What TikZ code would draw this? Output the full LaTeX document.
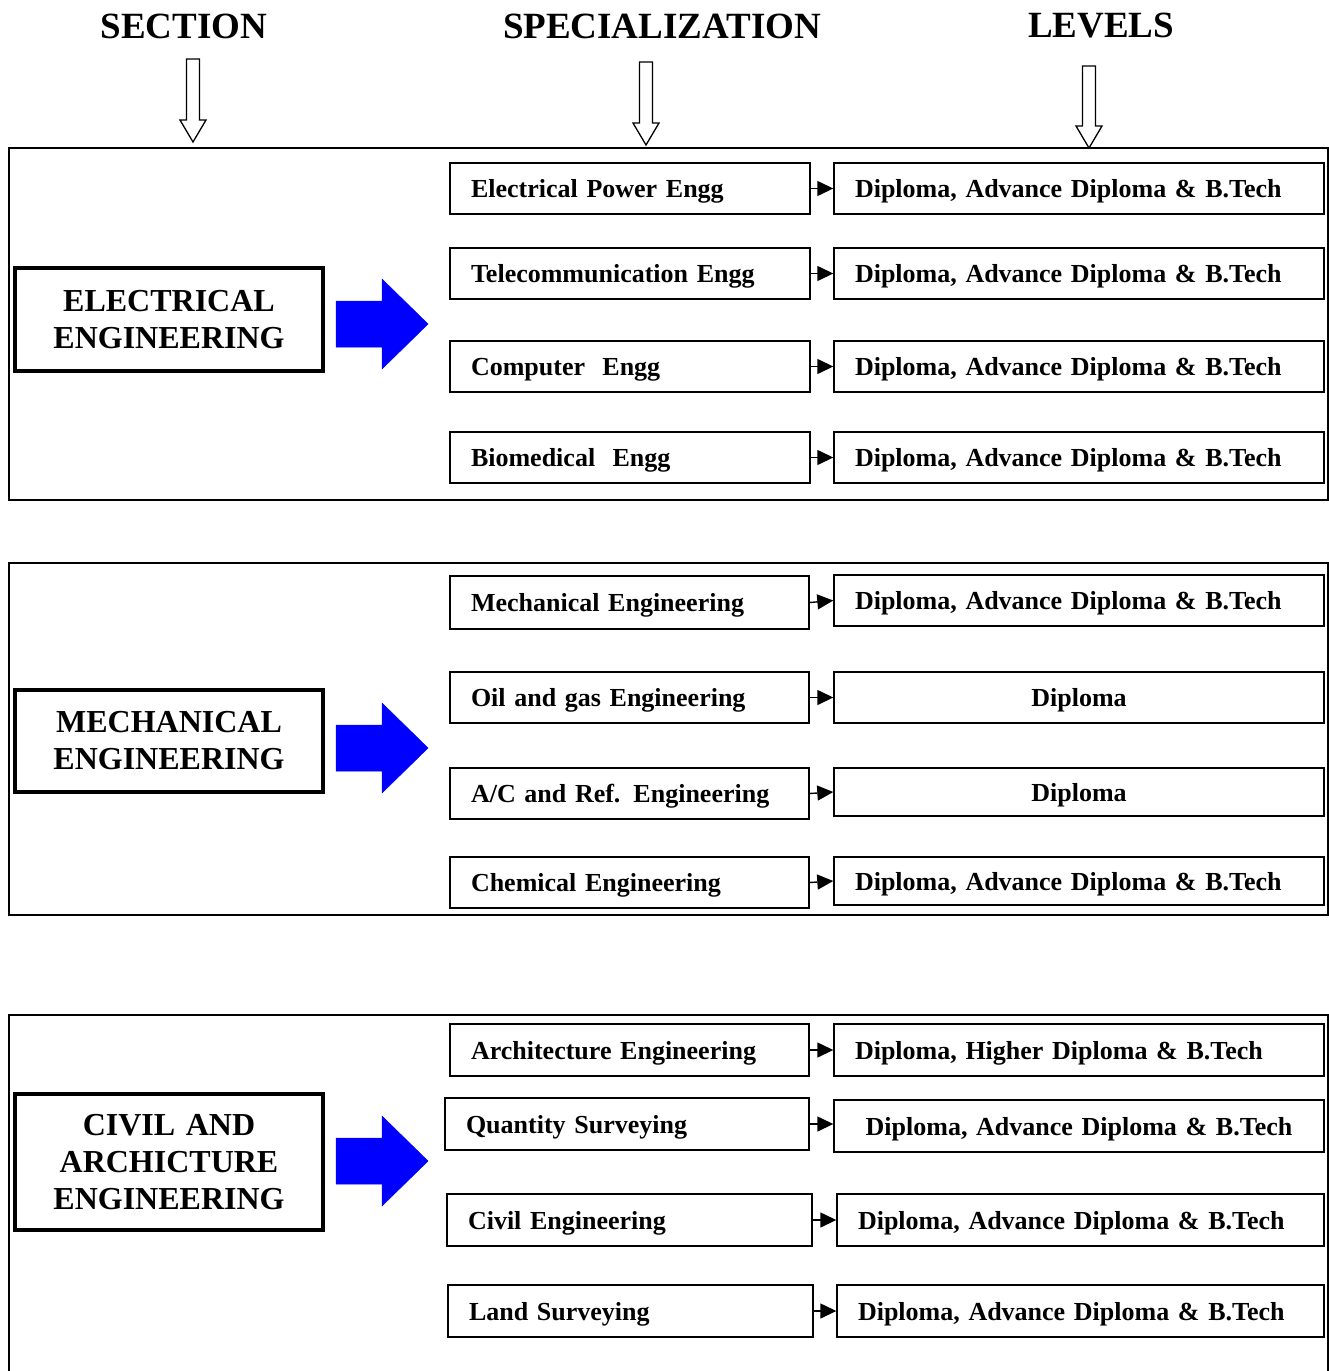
\documentclass[tikz,border=0pt]{standalone}
\usepackage{fontspec}
\setmainfont{Liberation Serif}
\usetikzlibrary{arrows.meta}
\tikzset{
  box/.style={draw, line width=1.4pt, inner xsep=21pt, inner ysep=2pt, align=left,
    text depth=0pt, font=\bfseries\fontsize{26}{30}\selectfont},
  ctr/.style={align=center},
  secbox/.style={draw, line width=3.2pt, inner xsep=21pt, inner ysep=2pt, align=center,
    text depth=, font=\bfseries\fontsize{32}{37}\selectfont},
  hdr/.style={font=\bfseries\fontsize{37}{40}\selectfont, inner sep=0pt},
  outer/.style={draw, line width=1.4pt},
  hollow/.style={draw, line width=1.3pt, fill=white},
  bluearrow/.style={fill=blue, draw=blue, line width=0.5pt},
  link/.style={line width=1.4pt, -{Triangle[length=16pt,width=15pt]}},
}
\newcommand\bx[7][]{%
  \pgfmathsetmacro\bw{#5-#3}\pgfmathsetmacro\bh{#6-#4}\pgfmathsetmacro\tw{#5-#3-42}%
  \node[box, minimum width=\bw pt, minimum height=\bh pt, text width=\tw pt, #1] (#2)
    at ({(#3+#5)/2},{(#4+#6)/2}) {#7};}
\newcommand\hol[3]{% x, top, tip
  \path[hollow] (#1-6.5,#2) -- (#1+6.5,#2) -- (#1+6.5,#3-22) -- (#1+13,#3-22) -- (#1,#3)
    -- (#1-13,#3-22) -- (#1-6.5,#3-22) -- cycle;}
\newcommand\blu[1]{% center y
  \path[bluearrow] (336,#1-23) -- (382,#1-23) -- (382,#1-45) -- (428,#1) -- (382,#1+45)
    -- (382,#1+23) -- (336,#1+23) -- cycle;}
\begin{document}
\begin{tikzpicture}[x=1pt,y=-1pt]
\useasboundingbox (0,0) rectangle (1329,1371);
% headers
\node[hdr] (h1) at (184,26) {SECTION};
\node[hdr] (h2) at (662,26) {SPECIALIZATION};
\node[hdr] (h3) at (1101,26) {LEVELS};
\hol{193}{59}{142}
\hol{646}{62}{145}
\hol{1089}{66}{148}
% outer boxes
\draw[outer] (9,148) rectangle (1328,500);
\draw[outer] (9,563) rectangle (1328,915);
\draw[outer] (9,1371) -- (9,1015) -- (1328,1015) -- (1328,1371);
% section boxes
\bx[secbox]{e}{15}{268}{323}{371}{ELECTRICAL\\ENGINEERING}
\bx[secbox]{m}{15}{690}{323}{792}{MECHANICAL\\ENGINEERING}
\bx[secbox]{c}{15}{1094}{323}{1230}{CIVIL AND\\ARCHICTURE\\ENGINEERING}
\blu{324}
\blu{748}
\blu{1161}
% section 1
\bx{s1}{450}{163}{810}{214}{Electrical Power Engg}
\bx{l1}{834}{163}{1324}{214}{Diploma, Advance Diploma \& B.Tech}
\bx{s2}{450}{248}{810}{299}{Telecommunication Engg}
\bx{l2}{834}{248}{1324}{299}{Diploma, Advance Diploma \& B.Tech}
\bx{s3}{450}{341}{810}{392}{Computer\ \ Engg}
\bx{l3}{834}{341}{1324}{392}{Diploma, Advance Diploma \& B.Tech}
\bx{s4}{450}{432}{810}{483}{Biomedical\ \ Engg}
\bx{l4}{834}{432}{1324}{483}{Diploma, Advance Diploma \& B.Tech}
% section 2
\bx{s5}{450}{576}{809}{629}{Mechanical Engineering}
\bx{l5}{834}{575}{1324}{626}{Diploma, Advance Diploma \& B.Tech}
\bx{s6}{450}{672}{809}{723}{Oil and gas Engineering}
\bx[ctr]{l6}{834}{672}{1324}{723}{Diploma}
\bx{s7}{450}{768}{809}{819}{A/C and Ref. Engineering}
\bx[ctr]{l7}{834}{768}{1324}{816}{Diploma}
\bx{s8}{450}{857}{809}{908}{Chemical Engineering}
\bx{l8}{834}{857}{1324}{905}{Diploma, Advance Diploma \& B.Tech}
% section 3
\bx{s9}{450}{1024}{809}{1076}{Architecture Engineering}
\bx{l9}{834}{1024}{1324}{1076}{Diploma, Higher Diploma \& B.Tech}
\bx{s10}{445}{1098}{809}{1150}{Quantity Surveying}
\bx[ctr]{l10}{834}{1100}{1324}{1152}{Diploma, Advance Diploma \& B.Tech}
\bx{s11}{447}{1194}{812}{1246}{Civil Engineering}
\bx{l11}{837}{1194}{1324}{1246}{Diploma, Advance Diploma \& B.Tech}
\bx{s12}{448}{1285}{813}{1337}{Land Surveying}
\bx{l12}{837}{1285}{1324}{1337}{Diploma, Advance Diploma \& B.Tech}
% links
\foreach \i in {1,...,9,11,12} \draw[link] (s\i.east) -- (l\i.west);
\draw[link] (s10.east) -- (s10.east -| l10.west);
\end{tikzpicture}
\end{document}
